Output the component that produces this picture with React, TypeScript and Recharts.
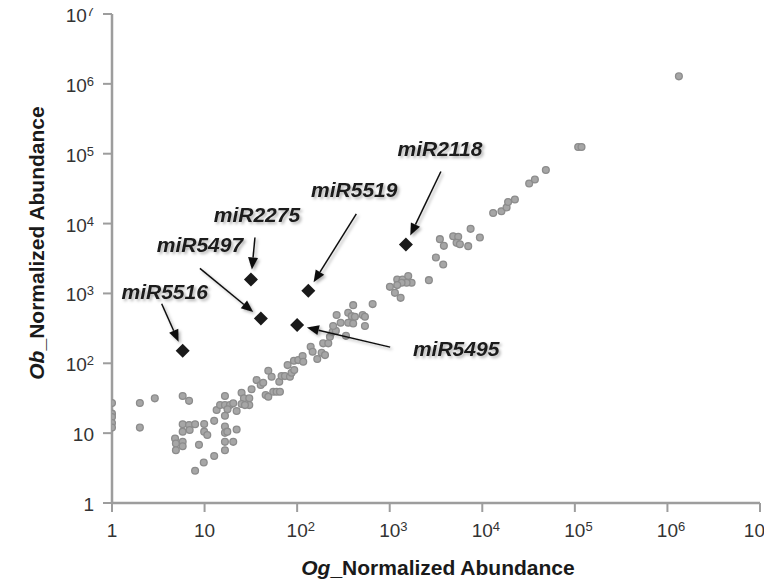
import React from "react";
import { ScatterChart, Scatter, XAxis, YAxis, Label } from "recharts";

// Og (x) / Ob (y) normalized abundance of the grey miRNAs
const ogAbundance = [
  1, 1, 1, 1, 1,
  2, 2, 2.9, 5.8, 6.8, 5.8, 6.8, 7.9, 5.8, 6.9, 4.8, 4.9, 4.9, 5.8, 5.8,
  8.7, 9.9, 9.9, 10.7, 12.7, 16.6, 16.6, 17.6, 22.2, 16.6, 20.4, 16.6, 12.7, 9.8, 7.9,
  16.6, 13.5, 14.7, 16.6, 18.8, 20.4, 17.7, 16.6, 22.2, 25.1, 26.6, 25.1, 30.4, 32.2, 30.4,
  27.3, 36.5, 40.4, 43, 45.7, 48.8, 48.8, 53, 55.2, 60, 65.2, 64.1, 67.9, 73.8, 78.9,
  83.6, 87.1, 93, 92.3, 102.8, 114.6, 116.4,
  140, 147, 165, 184, 200, 191, 217, 226, 242, 262, 245, 337, 295, 356, 403,
  540, 267, 356, 388, 421, 510, 540, 403, 654,
  1005, 1138, 1312, 1205, 1378, 1585, 1723, 1522, 1344, 1205, 2650, 3155, 3784, 3483, 3846,
  4850, 5495, 5275, 5730, 7046, 7480, 9420, 13100, 16100, 18300, 19000, 22500, 32100, 37000, 48600,
  108600, 118000, 1330000,
];
const obAbundance = [
  27, 19, 17, 14, 12,
  27, 12, 31.5, 34, 29, 13.4, 13.1, 13.4, 10.5, 11.1, 8.4, 7.1, 5.7, 7.5, 6.5,
  6.8, 13.5, 10.5, 9.4, 15, 12.4, 10.1, 10.5, 11.3, 7.5, 7.5, 5.7, 4.7, 3.8, 2.9,
  34, 21.4, 25.2, 25.2, 25.2, 26.7, 21.9, 17.7, 20.7, 37.9, 31.5, 26.1, 31.5, 42.4, 25.2,
  25.2, 57.5, 48.8, 52.6, 35.1, 33.2, 78.1, 64.1, 39.1, 39.1, 39.1, 54.3, 65.6, 65.6, 94.2,
  64.1, 73.1, 80, 108.6, 111, 126.8, 105,
  172, 146, 115, 141, 131, 193, 193, 239, 282, 292, 341, 247, 380, 380, 372,
  341, 490, 528, 473, 463, 490, 463, 680, 703,
  1243, 1020, 865, 1585, 1585, 1770, 1419, 1419, 1419, 1315, 1550, 3273, 2600, 5984, 4798,
  6600, 6457, 5297, 5070, 4750, 8400, 6330, 14200, 15000, 17000, 20400, 22100, 37500, 42700, 58600,
  125000, 125000, 1280000,
];

// highlighted miRNAs
const mirNames = ["miR5516", "miR5497", "miR2275", "miR5495", "miR5519", "miR2118"];
const mirOg = [5.8, 40.6, 31.7, 100, 132, 1496];
const mirOb = [151, 439, 1585, 352, 1089, 5023];

// callout layout: arrow tail and label centre, px offsets from the diamond
const calloutOffsets = [
  { tail: [-21, -47], text: [-18, -59] },
  { tail: [-61, -50], text: [-61, -74] },
  { tail: [4, -42], text: [6, -65] },
  { tail: [93, 22], text: [159, 23] },
  { tail: [48, -77], text: [46, -101] },
  { tail: [35, -73], text: [34, -96] },
];

const decadeTicks = [1, 10, 100, 1e3, 1e4, 1e5, 1e6, 1e7];

const W = 772;
const H = 583;
const FONT = '"Liberation Sans", Arial, sans-serif';
const AXIS_GREY = "#9d9d9d";
const TICK_FS = 19;
const TEN_W = TICK_FS * 1.112; // width of "10"

const points = ogAbundance.map((x, i) => ({ x, y: obAbundance[i] }));
const mirPoints = mirNames.map((name, i) => ({
  name,
  x: mirOg[i],
  y: mirOb[i],
  off: calloutOffsets[i],
}));

const tickText = (v: number) => {
  const k = Math.round(Math.log10(v));
  if (k < 2) return [<tspan key="b">{String(v)}</tspan>];
  return [
    <tspan key="b">10</tspan>,
    <tspan key="e" fontSize={13} dy={-6}>
      {k}
    </tspan>,
  ];
};

const XTick = (props: any) => {
  const { x, y, payload } = props;
  const k = Math.round(Math.log10(payload.value));
  if (k < 2) {
    return (
      <text x={x} y={y + 23} textAnchor="middle" fontSize={TICK_FS} fill="#333" fontFamily={FONT}>
        {tickText(payload.value)}
      </text>
    );
  }
  // centre the "10" on the tick, keep the last label inside the picture
  const start = Math.min(x - TEN_W / 2, W - TEN_W - 7);
  return (
    <text x={start} y={y + 23} textAnchor="start" fontSize={TICK_FS} fill="#333" fontFamily={FONT}>
      {tickText(payload.value)}
    </text>
  );
};

const YTick = (props: any) => {
  const { x, y, payload } = props;
  return (
    <text x={x - 7} y={y + 8} textAnchor="end" fontSize={TICK_FS} fill="#333" fontFamily={FONT}>
      {tickText(payload.value)}
    </text>
  );
};

const GreyDot = (props: any) => {
  const { cx, cy } = props;
  if (cx == null || cy == null) return null;
  return <circle cx={cx} cy={cy} r={3.4} fill="#a6a6a6" stroke="#8c8c8c" strokeWidth={1.3} />;
};

const Callout = (props: any) => {
  const { cx, cy, payload } = props;
  if (cx == null || cy == null) return null;
  const off = payload.off;
  const tx = cx + off.tail[0];
  const ty = cy + off.tail[1];
  const len = Math.hypot(cx - tx, cy - ty);
  const ux = (cx - tx) / len;
  const uy = (cy - ty) / len;
  const tipX = cx - ux * 10;
  const tipY = cy - uy * 10;
  const baseX = tipX - ux * 12;
  const baseY = tipY - uy * 12;
  const nx = -uy * 5;
  const ny = ux * 5;
  const d = 7;
  return (
    <g>
      <g filter="url(#softShadow)">
        <line x1={tx} y1={ty} x2={baseX} y2={baseY} stroke="#111" strokeWidth={1.5} />
        <polygon
          points={`${tipX},${tipY} ${baseX + nx},${baseY + ny} ${baseX - nx},${baseY - ny}`}
          fill="#111"
        />
        <text
          x={cx + off.text[0]}
          y={cy + off.text[1] + 7.5}
          textAnchor="middle"
          fontSize={21}
          fontWeight="bold"
          fontStyle="italic"
          fill="#1a1a1a"
          fontFamily={FONT}
        >
          {payload.name}
        </text>
      </g>
      <polygon
        points={`${cx},${cy - d} ${cx + d},${cy} ${cx},${cy + d} ${cx - d},${cy}`}
        fill="#1a1a1a"
      />
    </g>
  );
};

const XTitle = (props: any) => {
  const vb = props.viewBox || { x: 112, y: 503, width: 648 };
  return (
    <text
      x={vb.x + vb.width / 2 + 2}
      y={vb.y + 72}
      textAnchor="middle"
      fontSize={21}
      fontWeight="bold"
      fill="#1a1a1a"
      fontFamily={FONT}
    >
      <tspan fontStyle="italic">Og</tspan>
      <tspan>_Normalized Abundance</tspan>
    </text>
  );
};

const YTitle = () => {
  const cx = 44;
  const cy = 243;
  return (
    <g>
      <defs>
        <filter id="softShadow" x="-20%" y="-20%" width="140%" height="160%">
          <feDropShadow dx="2" dy="2" stdDeviation="1.6" floodColor="#000" floodOpacity="0.3" />
        </filter>
      </defs>
      <text
        x={cx}
        y={cy}
        transform={`rotate(-90 ${cx} ${cy})`}
        textAnchor="middle"
        fontSize={21}
        fontWeight="bold"
        fill="#1a1a1a"
        fontFamily={FONT}
      >
        <tspan fontStyle="italic">Ob</tspan>
        <tspan>_Normalized Abundance</tspan>
      </text>
    </g>
  );
};

export default function App() {
  return (
    <div style={{ width: W, height: H, margin: "-8px 0 0 -8px", background: "#fff" }}>
      <ScatterChart width={W} height={H} margin={{ top: 14, right: 12, left: 0, bottom: 0 }}>
        <XAxis
          type="number"
          dataKey="x"
          scale="log"
          domain={[1, 1e7]}
          ticks={decadeTicks}
          interval={0}
          allowDataOverflow
          height={80}
          axisLine={{ stroke: AXIS_GREY, strokeWidth: 2.5 }}
          tickLine={{ stroke: AXIS_GREY, strokeWidth: 2 }}
          tickSize={9}
          tick={<XTick />}
        >
          <Label content={<XTitle />} />
        </XAxis>
        <YAxis
          type="number"
          dataKey="y"
          scale="log"
          domain={[1, 1e7]}
          ticks={decadeTicks}
          interval={0}
          allowDataOverflow
          width={112}
          axisLine={{ stroke: AXIS_GREY, strokeWidth: 2.5 }}
          tickLine={{ stroke: AXIS_GREY, strokeWidth: 2 }}
          tickSize={9}
          tick={<YTick />}
        >
          <Label content={<YTitle />} />
        </YAxis>
        <Scatter data={points} shape={<GreyDot />} isAnimationActive={false} />
        <Scatter data={mirPoints} shape={<Callout />} isAnimationActive={false} />
      </ScatterChart>
    </div>
  );
}
